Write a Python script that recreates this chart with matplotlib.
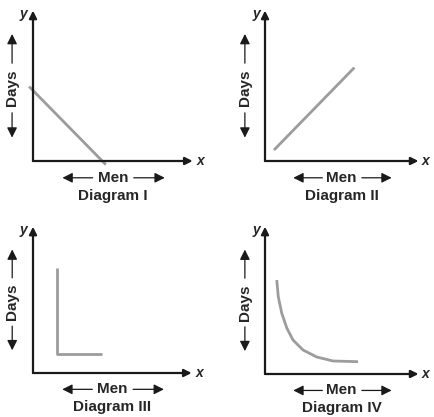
import matplotlib.pyplot as plt
import numpy as np

plt.rcParams['font.family'] = ['Liberation Sans', 'DejaVu Sans']

# Schematic curves (units: 0..10 along each axis)
men_1 = [-0.25, 4.7]
days_1 = [5.1, -0.25]

men_2 = [0.6, 6.0]
days_2 = [0.75, 6.4]

men_3 = [1.55, 1.55, 4.5]
days_3 = [7.4, 1.35, 1.35]

men_4 = [0.79, 0.89, 1.12, 1.46, 1.88, 2.55, 3.47, 4.56, 6.24]
days_4 = [6.57, 5.41, 4.27, 3.22, 2.38, 1.68, 1.19, 0.91, 0.86]

titles = ['Diagram I', 'Diagram II', 'Diagram III', 'Diagram IV']
curves = [(men_1, days_1), (men_2, days_2), (men_3, days_3), (men_4, days_4)]

# panel placement in pixels: origin x, origin y, x-axis end, y-axis top
W, H = 434, 417
panels = [(33, 161, 188, 15), (265, 161, 414, 15),
          (33, 373, 187, 231), (265, 374, 414, 231)]

fig = plt.figure(figsize=(W / 100, H / 100), dpi=100)

axis_col = '#1a1a1a'
line_col = '#9c9c9c'
txt_col = '#262626'
arr = dict(arrowstyle='-|>', color=axis_col, lw=1.6, mutation_scale=11,
           shrinkA=0, shrinkB=0)
small_arr = dict(arrowstyle='-|>,head_length=0.5,head_width=0.25', color=axis_col,
                 lw=0.9, mutation_scale=12, shrinkA=0, shrinkB=0)

for (ox, oy, xe, yt), (mx, dy), title in zip(panels, curves, titles):
    ax = fig.add_axes([ox / W, (H - oy) / H, (xe - ox) / W, (oy - yt) / H])
    ax.set_xlim(0, 10)
    ax.set_ylim(0, 10)
    ax.axis('off')

    # axes with arrow heads
    ax.annotate('', xy=(10.3, 0), xytext=(0, 0), arrowprops=arr, annotation_clip=False)
    ax.annotate('', xy=(0, 10.3), xytext=(0, 0), arrowprops=arr, annotation_clip=False)
    ax.text(-0.6, 10.1, 'y', style='italic', fontweight='bold', fontsize=10,
            ha='center', va='center', color=txt_col)
    ax.text(10.8, 0, 'x', style='italic', fontweight='bold', fontsize=10,
            ha='center', va='center', color=txt_col)

    ax.plot(mx, dy, color=line_col, lw=2, clip_on=False, solid_capstyle='butt')

    # Days label
    ax.text(-1.35, 5.0, 'Days', rotation=90, fontsize=11, fontweight='bold',
            ha='center', va='center', color=txt_col)
    ax.annotate('', xy=(-1.35, 8.7), xytext=(-1.35, 6.7), arrowprops=small_arr,
                annotation_clip=False)
    ax.annotate('', xy=(-1.35, 1.6), xytext=(-1.35, 3.3), arrowprops=small_arr,
                annotation_clip=False)

    # Men label
    ax.text(5.15, -1.15, 'Men', fontsize=11, fontweight='bold',
            ha='center', va='center', color=txt_col)
    ax.annotate('', xy=(1.9, -1.15), xytext=(3.85, -1.15), arrowprops=small_arr,
                annotation_clip=False)
    ax.annotate('', xy=(8.5, -1.15), xytext=(6.5, -1.15), arrowprops=small_arr,
                annotation_clip=False)

    ax.text(5.15, -2.4, title, fontsize=11, fontweight='bold',
            ha='center', va='center', color=txt_col)

plt.savefig('out.png', dpi=100)
